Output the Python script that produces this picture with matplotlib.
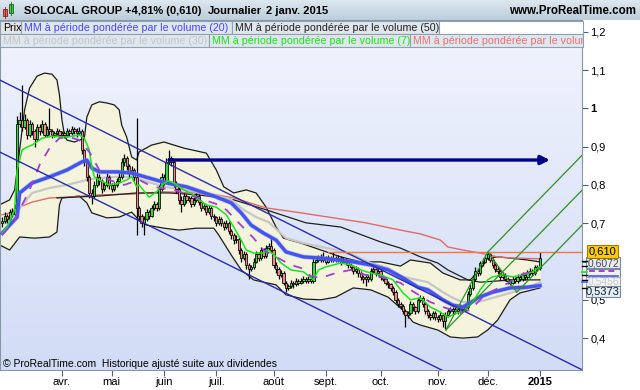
import numpy as np
import pandas as pd
import matplotlib
matplotlib.use("Agg")
from matplotlib import pyplot as plt
from matplotlib.patches import Rectangle
from matplotlib.colors import LinearSegmentedColormap

plt.rcParams["font.family"] = ["Liberation Sans", "DejaVu Sans"]

# trading days shown (Euronext holidays removed)
holidays = ["2014-04-18", "2014-04-21", "2014-05-01", "2014-12-25", "2014-12-26", "2015-01-01"]
days = pd.bdate_range("2014-02-26", "2015-01-02")
days = days[~days.isin(pd.to_datetime(holidays))]

# daily candles, in thousandths of a euro
first_open = 700
closes = [
    705, 720, 710, 730, 725, 740, 960, 970, 950, 970,
    930, 960, 940, 920, 950, 940, 960, 930, 945, 940,
    930, 935, 940, 930, 935, 930, 940, 935, 945, 940,
    935, 940, 890, 860, 820, 780, 770, 800, 820, 810,
    790, 800, 820, 800, 790, 800, 810, 820, 860, 870,
    850, 830, 840, 820, 740, 720, 700, 710, 730, 720,
    740, 750, 740, 790, 820, 810, 860, 870, 860, 800,
    790, 760, 750, 770, 760, 765, 750, 760, 770, 755,
    740, 745, 730, 740, 720, 715, 700, 710, 700, 690,
    700, 680, 670, 655, 660, 630, 610, 620, 590, 580,
    585, 600, 620, 610, 630, 615, 635, 640, 630, 590,
    580, 565, 570, 545, 530, 535, 545, 540, 550, 545,
    550, 555, 550, 555, 550, 600, 605, 610, 605, 610,
    600, 610, 605, 610, 605, 610, 600, 605, 600, 590,
    585, 575, 580, 570, 560, 555, 560, 555, 575, 580,
    570, 575, 560, 555, 545, 540, 530, 520, 500, 490,
    485, 470, 460, 465, 490, 480, 470, 500, 505, 490,
    470, 460, 455, 465, 455, 450, 460, 445, 460, 470,
    475, 470, 475, 470, 480, 475, 480, 515, 530, 555,
    575, 570, 595, 600, 610, 620, 605, 590, 580, 575,
    560, 565, 555, 550, 545, 555, 550, 560, 555, 565,
    560, 570, 575, 570, 585, 582, 610,
]
highs = [
    715, 728, 725, 738, 740, 750, 980, 990, 1060, 985,
    975, 970, 965, 945, 960, 958, 970, 965, 955, 1000,
    945, 942, 948, 945, 940, 942, 948, 945, 955, 952,
    948, 950, 945, 895, 865, 825, 790, 810, 830, 828,
    815, 808, 830, 825, 805, 808, 818, 830, 870, 880,
    875, 855, 850, 845, 975, 745, 725, 720, 738, 735,
    748, 758, 755, 800, 830, 828, 870, 890, 875, 865,
    810, 795, 770, 778, 775, 772, 770, 768, 778, 775,
    760, 752, 750, 748, 745, 725, 720, 718, 715, 705,
    708, 705, 685, 675, 668, 665, 635, 628, 625, 595,
    592, 608, 628, 625, 638, 635, 642, 648, 665, 635,
    598, 585, 578, 575, 550, 542, 552, 550, 558, 555,
    558, 562, 560, 562, 560, 610, 612, 618, 620, 625,
    615, 618, 615, 625, 615, 618, 615, 612, 610, 605,
    595, 590, 588, 585, 575, 565, 568, 565, 582, 588,
    585, 582, 580, 565, 560, 550, 545, 535, 525, 505,
    495, 490, 475, 472, 498, 495, 485, 508, 512, 510,
    495, 475, 465, 472, 470, 460, 468, 465, 468, 478,
    482, 480, 482, 480, 488, 485, 488, 522, 540, 565,
    585, 582, 602, 610, 618, 625, 622, 610, 595, 588,
    580, 572, 570, 560, 555, 562, 560, 568, 565, 572,
    570, 578, 582, 580, 592, 592, 625,
]
lows = [
    690, 700, 700, 705, 715, 720, 735, 950, 940, 945,
    920, 925, 930, 900, 915, 930, 935, 925, 925, 930,
    922, 925, 930, 925, 925, 922, 925, 928, 930, 932,
    925, 930, 880, 850, 810, 765, 750, 765, 795, 800,
    780, 785, 795, 790, 782, 785, 795, 805, 815, 850,
    840, 820, 825, 810, 670, 705, 690, 670, 705, 712,
    715, 735, 732, 735, 785, 800, 805, 855, 850, 795,
    780, 750, 730, 745, 752, 755, 742, 745, 755, 748,
    732, 735, 722, 725, 712, 705, 692, 695, 692, 682,
    685, 672, 660, 645, 648, 620, 600, 605, 580, 555,
    575, 580, 595, 602, 605, 608, 610, 630, 622, 582,
    570, 555, 560, 538, 520, 525, 530, 532, 535, 538,
    540, 545, 543, 545, 543, 545, 595, 600, 598, 600,
    593, 595, 598, 600, 598, 600, 592, 595, 592, 582,
    577, 567, 570, 560, 552, 545, 535, 547, 550, 570,
    562, 565, 552, 548, 538, 532, 522, 512, 492, 482,
    475, 462, 430, 452, 460, 472, 462, 465, 495, 482,
    462, 452, 447, 450, 447, 442, 445, 430, 425, 455,
    465, 463, 465, 463, 465, 468, 470, 475, 510, 525,
    550, 562, 565, 588, 595, 605, 598, 582, 572, 568,
    552, 555, 548, 542, 538, 540, 543, 545, 548, 550,
    553, 555, 565, 563, 565, 575, 578,
]

# indicator lines: (day index, price)
vw20_x = [0, 6, 7, 12, 19, 26, 32, 34, 36, 39, 46, 52, 59, 66, 74, 85, 92, 96, 100, 105,
          110, 114, 121, 128, 135, 141, 148, 155, 161, 167, 171, 177, 181, 185, 188, 191,
          197, 204, 211, 216]
vw20_y = [0.674, 0.716, 0.779, 0.805, 0.821, 0.839, 0.860, 0.865, 0.844, 0.834, 0.834, 0.831,
          0.818, 0.805, 0.795, 0.771, 0.753, 0.727, 0.695, 0.674, 0.656, 0.625, 0.612, 0.609,
          0.604, 0.599, 0.591, 0.578, 0.557, 0.533, 0.526, 0.500, 0.486, 0.481, 0.492, 0.505,
          0.520, 0.531, 0.533, 0.537]
vw30_x = [1, 6, 12, 19, 26, 34, 39, 46, 52, 65, 78, 85, 92, 97, 102, 107, 114, 121, 134, 141,
          148, 155, 161, 171, 177, 181, 185, 191, 197, 204, 211, 216]
vw30_y = [0.700, 0.730, 0.779, 0.792, 0.800, 0.813, 0.818, 0.821, 0.821, 0.795, 0.782, 0.774,
          0.761, 0.735, 0.716, 0.703, 0.661, 0.648, 0.630, 0.617, 0.596, 0.583, 0.560, 0.546,
          0.520, 0.505, 0.494, 0.494, 0.505, 0.518, 0.531, 0.546]
vw50_x = [22, 39, 54, 67, 79, 93, 106, 122, 136, 152, 160, 168, 175, 179, 187, 192, 205, 216]
vw50_y = [0.766, 0.771, 0.779, 0.779, 0.774, 0.761, 0.735, 0.701, 0.690, 0.651, 0.635, 0.612,
          0.596, 0.578, 0.552, 0.546, 0.552, 0.552]
vw7_x = [0, 2, 5, 6, 8, 10, 12, 16, 20, 26, 31, 33, 35, 36, 37, 39, 43, 47, 50, 52, 54, 55,
         59, 62, 65, 67, 69, 73, 77, 79, 82, 86, 90, 93, 96, 98, 101, 105, 107, 110, 112, 116,
         121, 125, 127, 130, 136, 140, 144, 148, 152, 157, 161, 164, 168, 172, 176, 179, 183,
         186, 189, 192, 195, 197, 201, 205, 209, 213, 216]
vw7_y = [0.674, 0.690, 0.735, 0.839, 0.891, 0.899, 0.904, 0.922, 0.927, 0.925, 0.930, 0.922,
         0.891, 0.847, 0.821, 0.813, 0.800, 0.805, 0.813, 0.821, 0.795, 0.800, 0.768, 0.782,
         0.805, 0.810, 0.805, 0.787, 0.774, 0.761, 0.748, 0.742, 0.722, 0.690, 0.656, 0.630,
         0.622, 0.622, 0.630, 0.612, 0.596, 0.578, 0.573, 0.552, 0.578, 0.586, 0.596, 0.591,
         0.578, 0.570, 0.565, 0.552, 0.518, 0.500, 0.505, 0.481, 0.468, 0.455, 0.466, 0.473,
         0.494, 0.526, 0.552, 0.560, 0.565, 0.560, 0.565, 0.573, 0.586]
vw200_x = [0, 3, 7, 12, 19, 26, 39, 52, 65, 78, 86, 93, 106, 120, 133, 146, 160, 168, 176,
           179, 185, 192, 199, 205, 216]
vw200_y = [0.722, 0.727, 0.742, 0.755, 0.766, 0.768, 0.774, 0.776, 0.782, 0.779, 0.774, 0.766,
           0.740, 0.727, 0.714, 0.701, 0.682, 0.672, 0.656, 0.638, 0.630, 0.622, 0.612, 0.609,
           0.607]
lag_x = [0, 5, 11, 15, 19, 23, 27, 31, 35, 39, 43, 49, 55, 59, 63, 69, 75, 81, 87, 90, 95,
         101, 105, 110, 116, 120, 124, 128, 134, 140, 146, 152, 160, 164, 168, 172, 178, 184,
         188, 193, 196, 202, 208, 215]
lag_y = [0.669, 0.708, 0.787, 0.852, 0.896, 0.922, 0.925, 0.917, 0.886, 0.839, 0.813, 0.800,
         0.813, 0.800, 0.792, 0.787, 0.774, 0.761, 0.748, 0.735, 0.701, 0.661, 0.630, 0.612,
         0.591, 0.583, 0.562, 0.557, 0.570, 0.578, 0.565, 0.560, 0.544, 0.526, 0.510, 0.494,
         0.479, 0.468, 0.473, 0.507, 0.520, 0.539, 0.565, 0.578]
bb_up_x = [-1, 3, 5, 7, 9, 11, 14, 17, 20, 22, 23, 24, 25, 26, 29, 33, 34, 36, 39, 42, 45,
           47, 48, 50, 52, 54, 55, 60, 65, 69, 73, 82, 86, 89, 93, 98, 102, 106, 110, 113,
           120, 128, 136, 144, 152, 160, 164, 172, 177, 184, 188, 192, 195, 199, 204, 211, 216]
bb_up_y = [0.748, 0.761, 0.787, 0.891, 0.996, 1.053, 1.084, 1.092, 1.089, 1.074, 1.035, 0.970,
           0.930, 0.917, 0.912, 0.922, 0.977, 1.009, 1.017, 1.014, 1.009, 0.996, 0.956, 0.925,
           0.873, 0.865, 0.886, 0.904, 0.912, 0.904, 0.896, 0.883, 0.839, 0.795, 0.779, 0.787,
           0.779, 0.742, 0.690, 0.661, 0.648, 0.630, 0.612, 0.599, 0.599, 0.588, 0.604, 0.596,
           0.570, 0.552, 0.552, 0.578, 0.609, 0.612, 0.609, 0.604, 0.599]
bb_lo_x = [-1, 3, 7, 13, 19, 22, 23, 24, 27, 31, 34, 36, 42, 47, 52, 55, 58, 65, 71, 78, 85,
           87, 92, 96, 101, 105, 110, 114, 121, 128, 134, 141, 148, 155, 161, 165, 168, 175,
           180, 185, 191, 195, 199, 204, 208, 213, 216]
bb_lo_y = [0.643, 0.630, 0.664, 0.661, 0.664, 0.677, 0.748, 0.766, 0.768, 0.771, 0.753, 0.727,
           0.714, 0.716, 0.729, 0.708, 0.695, 0.687, 0.682, 0.687, 0.687, 0.669, 0.617, 0.578,
           0.552, 0.546, 0.539, 0.513, 0.502, 0.500, 0.507, 0.531, 0.526, 0.507, 0.473, 0.442,
           0.434, 0.421, 0.403, 0.400, 0.403, 0.421, 0.447, 0.500, 0.518, 0.526, 0.531]

# drawn objects: channel, resistance arrow, horizontal, pitchfork anchors
chan_up = [(-1, 1.074), (233, 0.317)]
chan_lo = [(-1, 0.886), (178, 0.312)]
arrow_level = 0.865
arrow_from, arrow_to = 67, 220
hline_level, hline_from = 0.626, 131
fork_a, fork_b, fork_c = (178.2, 0.421), (195.1, 0.625), (206.7, 0.520)

legend_row1 = ["Prix", "MM à période pondérée par le volume (20)", "MM à période pondérée par le volume (50)", ""]
legend_row2 = ["MM à période pondérée par le volume (30)", "MM à période pondérée par le volume (7)",
               "MM à période pondérée par le volume (200)"]
month_names = ["avr.", "mai", "juin", "juil.", "août", "sept.", "oct.", "nov.", "déc.", "2015"]

W, H = 640, 390
fig = plt.figure(figsize=(W / 100, H / 100), dpi=100)
fig.patch.set_facecolor("white")

ax = fig.add_axes([0, 20 / H, 582 / W, 350 / H])
xlim = (-0.88, 232.9)
ylim = (0.3167, 1.2306)
bg = LinearSegmentedColormap.from_list("bg", ["#d2dcf6", "#f1f4fd"])
ax.imshow(np.linspace(0, 1, 256).reshape(-1, 1), cmap=bg, extent=(*xlim, *ylim),
          aspect="auto", origin="lower", zorder=0)

# bollinger envelope
ax.fill(np.r_[bb_up_x, bb_lo_x[::-1]], np.r_[bb_up_y, bb_lo_y[::-1]], color="#f4f4dc", zorder=1)
ax.plot(bb_up_x, bb_up_y, color="#1a1a1a", lw=0.9, zorder=2)
ax.plot(bb_lo_x, bb_lo_y, color="#1a1a1a", lw=0.9, zorder=2)

ax.plot(vw200_x, vw200_y, color="#e06a6a", lw=1.0, zorder=2.2)
ax.plot(vw50_x, vw50_y, color="#202020", lw=0.9, zorder=2.2)
ax.plot(vw30_x, vw30_y, color="#c6c6c6", lw=1.6, zorder=2.3)

# candles
c = np.array(closes) / 1000
hi = np.array(highs) / 1000
lo = np.array(lows) / 1000
o = np.r_[first_open / 1000, c[:-1]]
idx = np.arange(len(c))
ax.vlines(idx, lo, hi, color="black", lw=0.9, zorder=3)
ax.bar(idx, np.abs(c - o), bottom=np.minimum(o, c), width=0.9,
       color=np.where(c >= o, "#3ed43e", "#f08a8a"), edgecolor="black", linewidth=0.55, zorder=3.1)

ax.plot(vw20_x, vw20_y, color="#8290f4", lw=3.4, alpha=0.5, zorder=3.5)
ax.plot(vw20_x, vw20_y, color="#4454f0", lw=2.4, zorder=3.6)
ax.plot(vw7_x, vw7_y, color="#1fe01f", lw=1.1, zorder=3.7)
ax.plot(lag_x, lag_y, color="#a040d0", lw=1.3, dashes=(5, 5), zorder=3.7)

# trend channel
for line in (chan_up, chan_lo):
    ax.plot([p[0] for p in line], [p[1] for p in line], color="#2b2bab", lw=1.0, zorder=4)

ax.annotate("", xy=(arrow_to, arrow_level), xytext=(arrow_from, arrow_level),
            arrowprops=dict(arrowstyle="-|>", color="#000088", lw=2.4, mutation_scale=13,
                            shrinkA=0, shrinkB=0), zorder=4)
ax.plot([hline_from, xlim[1]], [hline_level, hline_level], color="#f07848", lw=1.0, zorder=4)

# andrews pitchfork
mid = ((fork_b[0] + fork_c[0]) / 2, (fork_b[1] + fork_c[1]) / 2)
slope = (mid[1] - fork_a[1]) / (mid[0] - fork_a[0])
fork_col = "#2f8f2f"
ax.plot([fork_a[0], fork_b[0], fork_c[0]], [fork_a[1], fork_b[1], fork_c[1]], color=fork_col, lw=0.9, zorder=4)
for px, py in (fork_a, fork_b, fork_c):
    ax.plot([px, xlim[1]], [py, py + slope * (xlim[1] - px)], color=fork_col, lw=0.9, zorder=4)

ax.set_xlim(*xlim)
ax.set_ylim(*ylim)

yt = [0.4, 0.5, 0.6, 0.7, 0.8, 0.9, 1.0, 1.1, 1.2]
ax.yaxis.tick_right()
ax.set_yticks(yt)
# 0,6 sits under the last-value boxes, so it stays blank like on the chart
ax.set_yticklabels(["" if v == 0.6 else ("%g" % v).replace(".", ",") for v in yt])
ax.get_yticklabels()[6].set_fontweight("bold")
ax.tick_params(axis="y", length=4, color="#556070", labelsize=8, pad=2)

starts = [np.argmax((days.year == y) & (days.month == m)) for y, m in
          [(2014, 4), (2014, 5), (2014, 6), (2014, 7), (2014, 8), (2014, 9), (2014, 10),
           (2014, 11), (2014, 12), (2015, 1)]]
ax.set_xticks(starts)
ax.set_xticklabels(month_names)
ax.get_xticklabels()[-1].set_fontweight("bold")
ax.get_xticklabels()[-1].set_fontsize(9)
ax.tick_params(axis="x", length=4, color="#556070", labelsize=8, pad=1)
for s in ax.spines.values():
    s.set_color("#8797a8")
    s.set_linewidth(0.8)

# header bar
hdr = fig.add_axes([0, 1 - 20 / H, 1, 20 / H])
hdr.imshow(np.linspace(0, 1, 64).reshape(-1, 1),
           cmap=LinearSegmentedColormap.from_list("hd", ["#dde7ef", "#bccdda"]),
           aspect="auto", extent=(0, 1, 0, 1))
hdr.axis("off")

ov = fig.add_axes([0, 0, 1, 1], zorder=10)
ov.set_xlim(0, W)
ov.set_ylim(H, 0)
ov.axis("off")
ov.patch.set_alpha(0)

ov.add_patch(Rectangle((3, 9), 4, 7, fc="#f06060", ec="#802020", lw=0.6))
ov.plot([5, 5], [7, 18], color="#802020", lw=0.6)
ov.add_patch(Rectangle((9, 4), 4, 9, fc="#40d040", ec="#206020", lw=0.6))
ov.plot([11, 11], [2, 15], color="#206020", lw=0.6)
for x0, t in [(24, "SOLOCAL GROUP"), (125, "+4,81% (0,610)"), (208, "Journalier"), (266, "2 janv. 2015")]:
    ov.text(x0, 11, t, fontsize=8, fontweight="bold", va="center")
ov.text(636, 11, "www.ProRealTime.com", fontsize=8.3, fontweight="bold", va="center", ha="right")

row1_box = [(0, 21), (21, 232), (232, 439), (439, 583)]
row1_col = ["#000000", "#4646ff", "#202020", "#000000"]
row1_bg = ["#e4e4e4", "#dfe6ee", "#dfe6ee", "#ffffff"]
row2_box = [(0, 209), (209, 410), (410, 583)]
row2_col = ["#c4c4c4", "#1fe01f", "#e87272"]
for boxes, names, cols, bgs, y0 in [(row1_box, legend_row1, row1_col, row1_bg, 21),
                                     (row2_box, legend_row2, row2_col, ["#dfe6ee"] * 3, 34)]:
    for (x0, x1), name, col, fc in zip(boxes, names, cols, bgs):
        r = Rectangle((x0, y0), x1 - x0, 13, fc=fc, ec="#8fa0b0", lw=0.8)
        ov.add_patch(r)
        t = ov.text(x0 + 3, y0 + 6.8, name, color=col, fontsize=7.7, va="center", clip_on=True)
        t.set_clip_path(r)

ov.text(3, 364, "© ProRealTime.com  Historique ajusté suite aux dividendes", fontsize=7.5, va="center")

# last values on the price scale
for yy in (261, 266, 275, 280, 288):
    ov.plot([582, 587], [yy, yy], color="black", lw=1.0)
ov.add_patch(Rectangle((586, 257), 34, 11, fc="#e6edf3", ec="#7a8a9a", lw=0.8))
ov.text(603, 263, "0,6072", fontsize=7.5, ha="center", va="center", color="#404858")
ov.plot([582, 587], [272, 272], color="#1fe01f", lw=1.2)
ov.plot([589, 618], [270.5, 270.5], color="#a040d0", lw=1.4, dashes=(3, 2))
ov.add_patch(Rectangle((586, 269), 34, 9, fc="#eef2f6", ec="#7a8a9a", lw=0.8))
ov.plot([589, 618], [275.5, 275.5], color="#4858f2", lw=1.2)
ov.plot([582, 587], [282, 282], color="#4858f2", lw=1.2)
ov.add_patch(Rectangle((586, 277), 34, 10, fc="#f2f4f6", ec="#a0aab4", lw=0.8))
ov.text(603, 281.5, "0,5456", fontsize=7.5, ha="center", va="center", color="#c8c8c8")
ov.add_patch(Rectangle((586, 286), 34, 11, fc="#e4ecf4", ec="#7a8a9a", lw=0.8))
ov.text(603, 291.5, "0,5373", fontsize=8, ha="center", va="center", color="#102030")
ov.add_patch(Rectangle((587, 245), 31, 13, fc="#ffcc00", ec="#a07800", lw=0.8))
ov.text(602.5, 251.5, "0,610", fontsize=8, ha="center", va="center", color="black")

fig.savefig("out.png", dpi=100)
